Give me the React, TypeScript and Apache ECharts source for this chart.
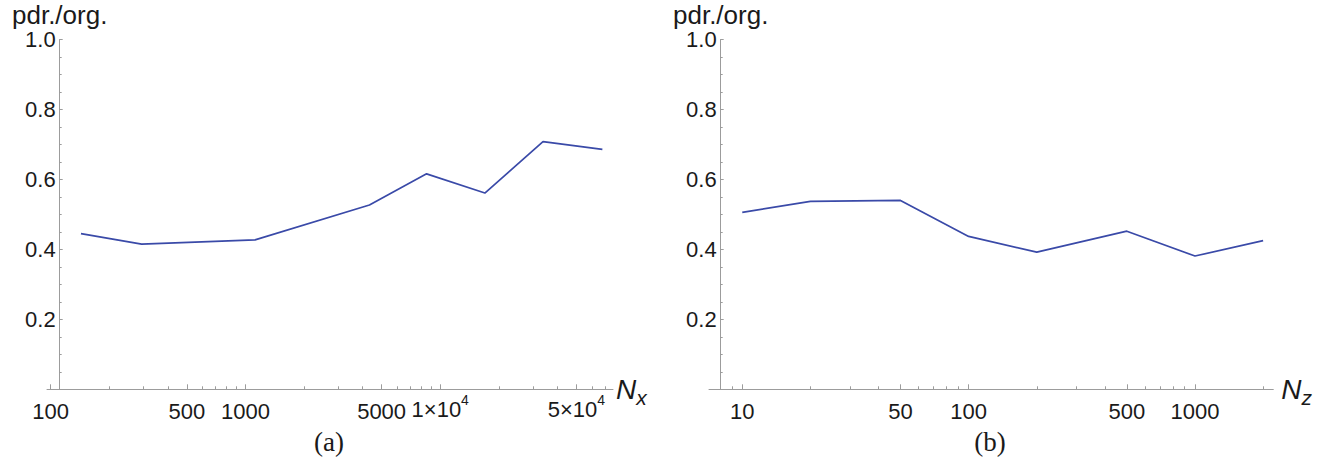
import React, { useEffect, useRef } from "react";
import * as echarts from "echarts";

// ---- data ----
const nxValues = [143, 293, 1120, 4330, 8510, 16950, 33700, 68000];
const ratioA = [0.445, 0.415, 0.427, 0.527, 0.616, 0.561, 0.708, 0.686];
const nzValues = [10, 20, 50, 100, 200, 500, 1000, 2000];
const ratioB = [0.506, 0.537, 0.54, 0.437, 0.392, 0.452, 0.381, 0.425];

// ---- axis ticks ----
const majorTicksA = [100, 500, 1000, 5000, 10000, 50000];
const minorTicksA = [200, 300, 400, 600, 700, 800, 900, 2000, 3000, 4000, 6000, 7000, 8000, 9000, 20000, 30000, 40000, 60000, 70000];
const majorTicksB = [10, 50, 100, 500, 1000];
const minorTicksB = [8, 9, 20, 30, 40, 60, 70, 80, 90, 200, 300, 400, 600, 700, 800, 900, 2000];
const rangeA = [95.7, 77100];
const rangeB = [7.13, 2218];
const yMin = 0;
const yMax = 1;
const yInterval = 0.2;
const yLabel = "pdr./org.";
const xNames = ["x", "z"];
const panelLabels = ["(a)", "(b)"];

const SANS = "Liberation Sans";
const SERIF = "Liberation Serif";
const AXIS_COLOR = "#9c9c9c";
const TEXT_COLOR = "#1a1a1a";
const LINE_COLOR = "#3a4aa8";

const lg = (v: number) => Math.log10(v);

const fmtX = (v: number) => {
  const n = Math.round(Math.pow(10, v));
  if (n >= 10000) {
    const exp = Math.floor(Math.log10(n) + 1e-9);
    const mant = Math.round(n / Math.pow(10, exp));
    return `{m|${mant}\u00d710}{p|${exp}}`;
  }
  return `{q|${n}}`;
};

const xRich = {
  q: { fontSize: 22, lineHeight: 30, fontFamily: SANS, color: TEXT_COLOR },
  m: { fontSize: 22, lineHeight: 24, verticalAlign: "bottom", fontFamily: SANS, color: TEXT_COLOR },
  p: { fontSize: 14, lineHeight: 14, padding: [0, 0, 13, 0], verticalAlign: "bottom", fontFamily: SANS, color: TEXT_COLOR },
};

function buildPanel(idx: number, grid: any, range: number[], major: number[], minor: number[], nameGap: number) {
  const majorLog = major.map(lg);
  const minorLog = minor.map(lg);
  const xMajor = {
    type: "value",
    gridIndex: idx,
    position: "bottom",
    min: lg(range[0]),
    max: lg(range[1]),
    name: `{n|N}{s|${xNames[idx]}}`,
    nameLocation: "end",
    nameGap,
    nameTextStyle: {
      rich: {
        n: { fontSize: 28, lineHeight: 28, fontStyle: "italic", verticalAlign: "top", fontFamily: SANS, color: TEXT_COLOR },
        s: { fontSize: 21, lineHeight: 21, fontStyle: "italic", verticalAlign: "top", padding: [12, 0, 0, 0], fontFamily: SANS, color: TEXT_COLOR },
      },
    },
    axisLine: { show: true, onZero: false, lineStyle: { color: AXIS_COLOR, width: 1 } },
    axisTick: { show: true, inside: true, length: 5, customValues: majorLog, lineStyle: { color: AXIS_COLOR } },
    axisLabel: { show: true, margin: 7, customValues: majorLog, formatter: fmtX, rich: xRich, hideOverlap: false },
    splitLine: { show: false },
  };
  const xMinor = {
    type: "value",
    gridIndex: idx,
    position: "bottom",
    min: lg(range[0]),
    max: lg(range[1]),
    axisLine: { show: false, onZero: false },
    axisTick: { show: true, inside: true, length: 3, customValues: minorLog, lineStyle: { color: AXIS_COLOR } },
    axisLabel: { show: false },
    splitLine: { show: false },
  };
  const y = {
    type: "value",
    gridIndex: idx,
    min: yMin,
    max: yMax,
    interval: yInterval,
    offset: grid.yOffset,
    name: yLabel,
    nameLocation: "end",
    nameGap: 14,
    nameTextStyle: { fontSize: 26, lineHeight: 22, fontFamily: SANS, color: TEXT_COLOR },
    axisLine: { show: true, onZero: false, lineStyle: { color: AXIS_COLOR, width: 1 } },
    axisTick: { show: true, inside: true, length: 3, lineStyle: { color: AXIS_COLOR } },
    minorTick: { show: true, splitNumber: 4, length: 2, lineStyle: { color: AXIS_COLOR } },
    axisLabel: {
      show: true,
      margin: 4,
      fontSize: 22,
      lineHeight: 20,
      fontFamily: SANS,
      color: TEXT_COLOR,
      formatter: (v: number) => (v === 0 ? "" : v.toFixed(1)),
    },
    splitLine: { show: false },
  };
  return { xMajor, xMinor, y };
}

export default function App() {
  const ref = useRef<HTMLDivElement>(null);
  useEffect(() => {
    if (!ref.current) return;
    const chart = echarts.init(ref.current, undefined, { renderer: "svg" });
    const grids = [
      { left: 47, top: 39.5, width: 566, height: 349.8, yOffset: -12.7 },
      { left: 709, top: 39.5, width: 564.3, height: 349.8, yOffset: -11.7 },
    ];
    const pA = buildPanel(0, grids[0], rangeA, majorTicksA, minorTicksA, 3);
    const pB = buildPanel(1, grids[1], rangeB, majorTicksB, minorTicksB, 8);
    const option: any = {
      animation: false,
      backgroundColor: "#ffffff",
      grid: grids.map((g) => ({ left: g.left, top: g.top, width: g.width, height: g.height, containLabel: false })),
      xAxis: [pA.xMajor, pA.xMinor, pB.xMajor, pB.xMinor],
      yAxis: [pA.y, pB.y],
      series: [
        {
          type: "line",
          xAxisIndex: 0,
          yAxisIndex: 0,
          data: nxValues.map((n, i) => [lg(n), ratioA[i]]),
          showSymbol: false,
          symbol: "none",
          lineStyle: { color: LINE_COLOR, width: 1.7 },
          itemStyle: { color: LINE_COLOR },
        },
        {
          type: "line",
          xAxisIndex: 2,
          yAxisIndex: 1,
          data: nzValues.map((n, i) => [lg(n), ratioB[i]]),
          showSymbol: false,
          symbol: "none",
          lineStyle: { color: LINE_COLOR, width: 1.7 },
          itemStyle: { color: LINE_COLOR },
        },
      ],
      graphic: [
        {
          type: "text",
          x: 329,
          y: 442,
          style: { text: panelLabels[0], font: `27px "${SERIF}"`, fill: TEXT_COLOR, textAlign: "center", textVerticalAlign: "middle" },
        },
        {
          type: "text",
          x: 990,
          y: 442,
          style: { text: panelLabels[1], font: `27px "${SERIF}"`, fill: TEXT_COLOR, textAlign: "center", textVerticalAlign: "middle" },
        },
      ],
    };
    chart.setOption(option);
    return () => chart.dispose();
  }, []);
  return (
    <div
      ref={ref}
      style={{ position: "fixed", left: 0, top: 0, width: 1327, height: 463, background: "#fff" }}
    />
  );
}
